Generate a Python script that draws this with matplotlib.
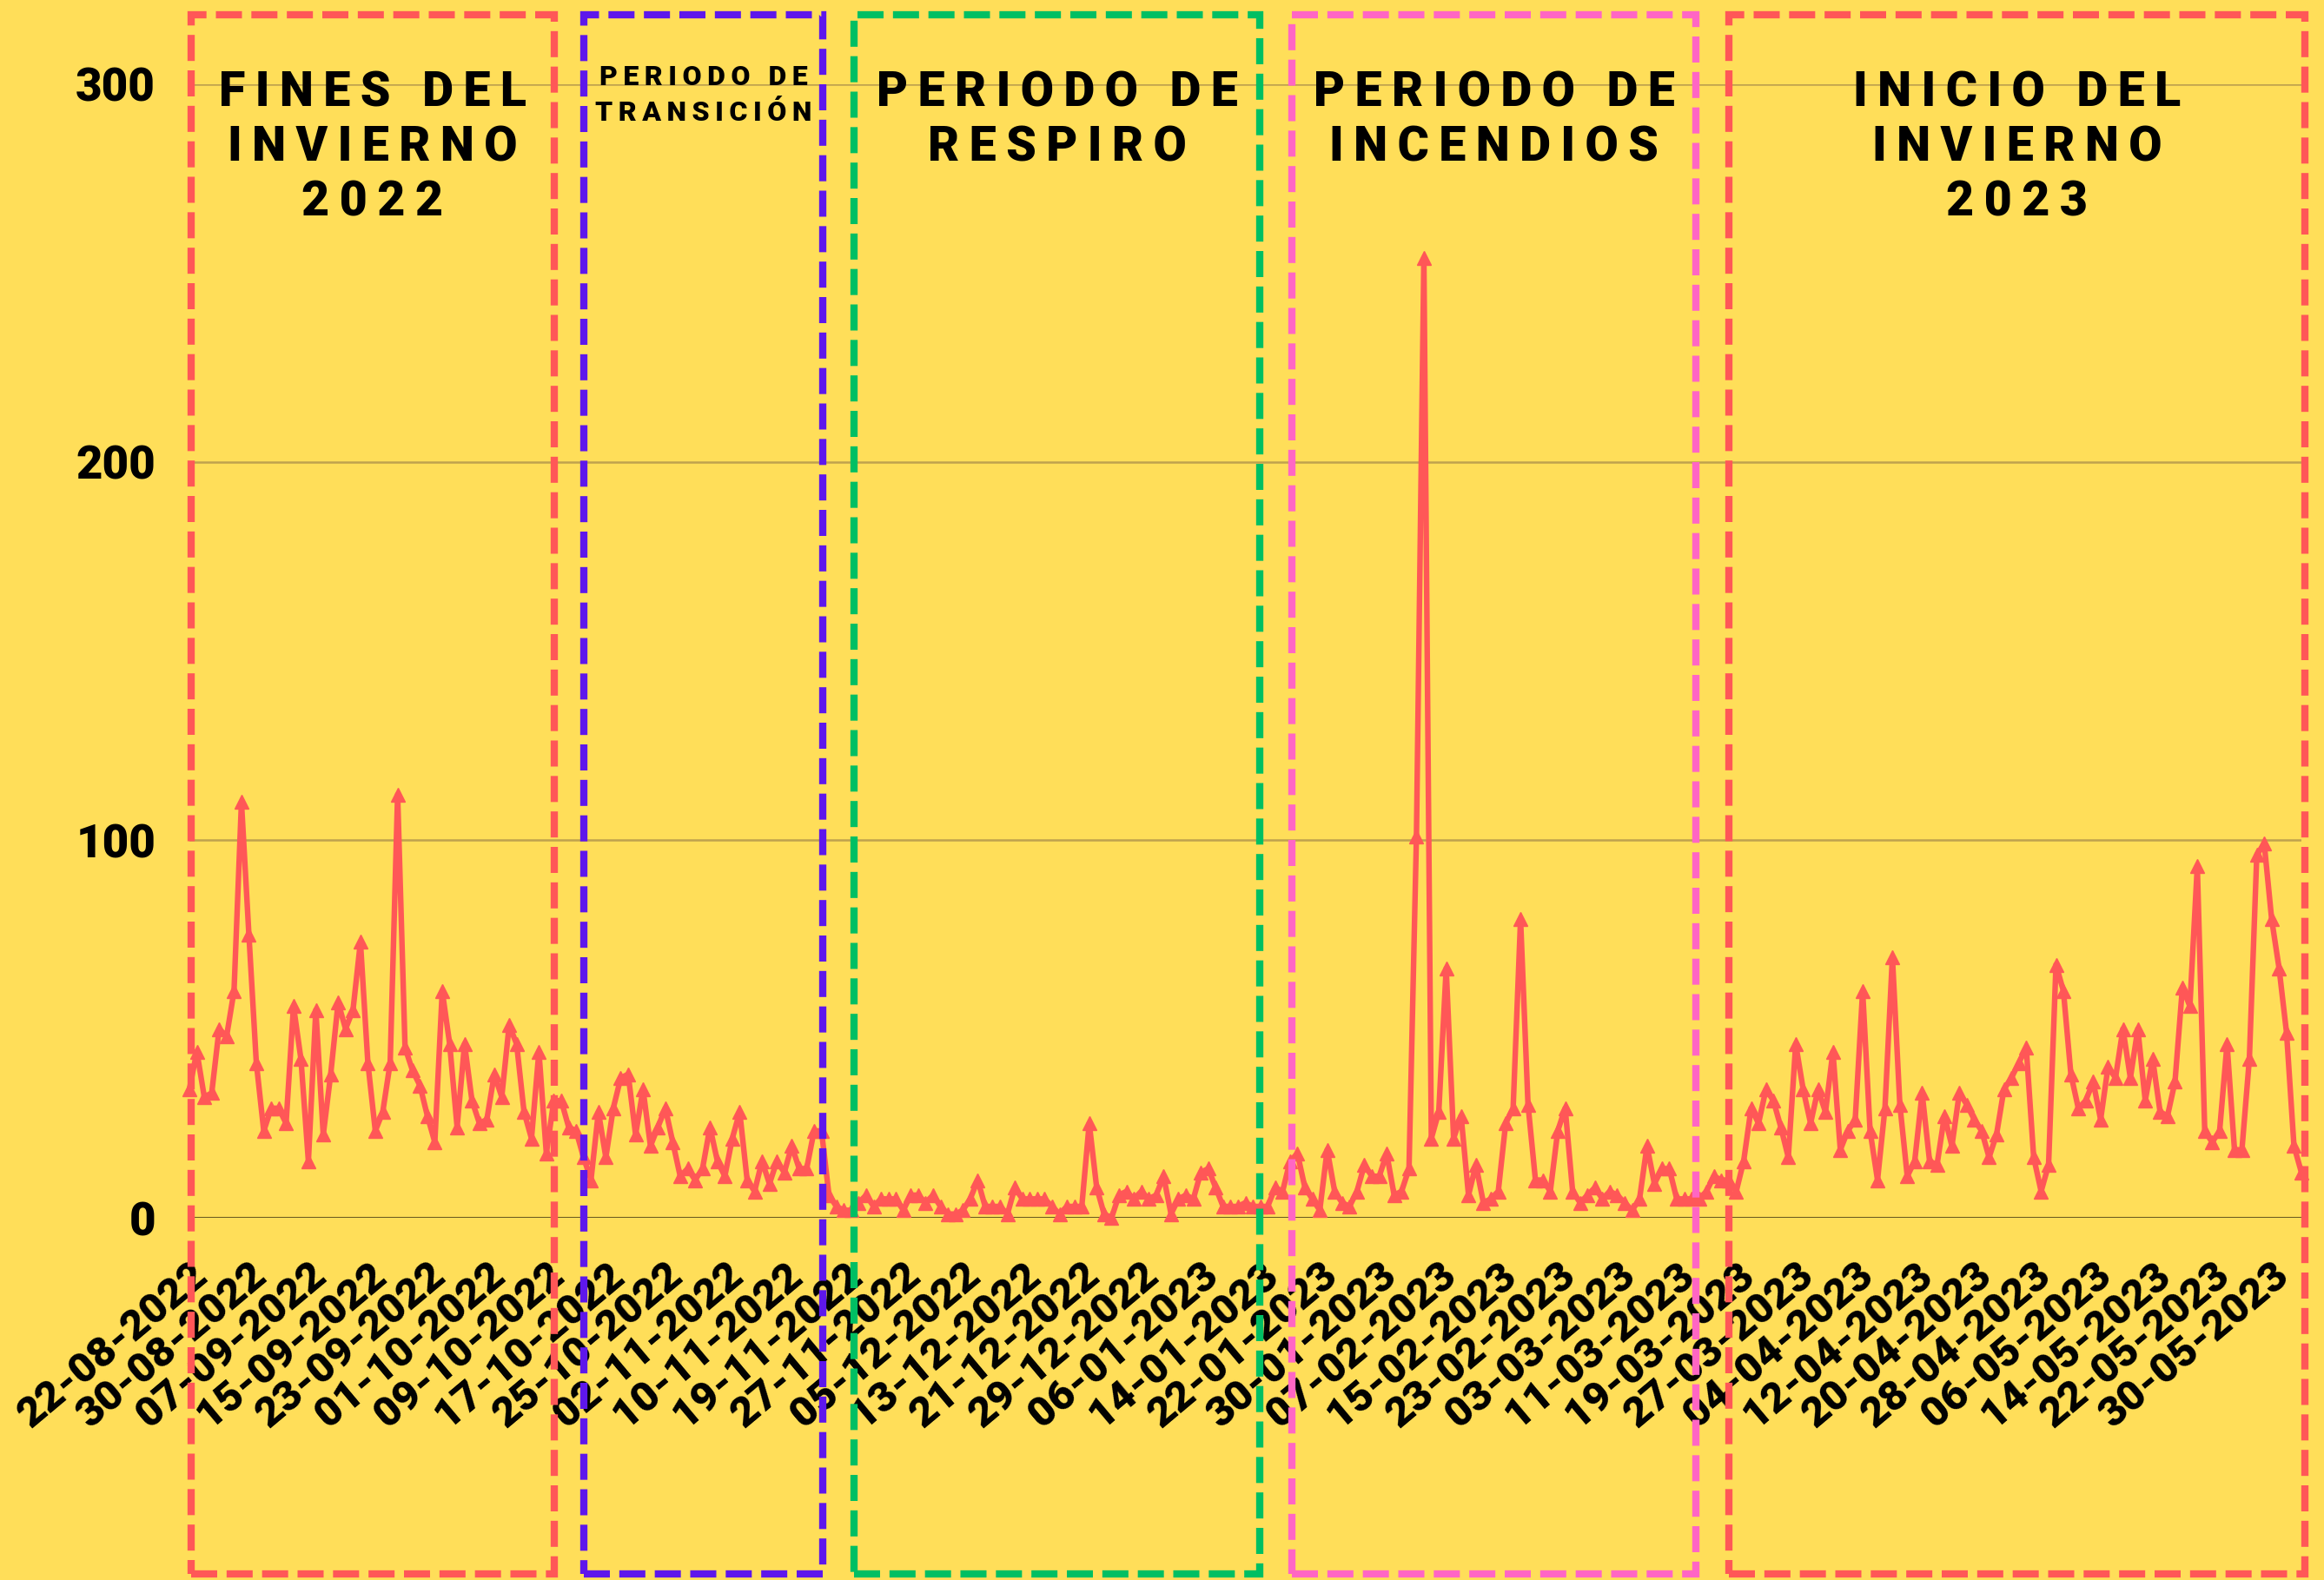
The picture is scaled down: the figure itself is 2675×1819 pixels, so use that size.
import numpy as np
import pandas as pd
import matplotlib
matplotlib.use("Agg")
import matplotlib.pyplot as plt
from matplotlib.patches import Rectangle

W, H = 2675, 1819

# daily counts, 22-08-2022 .. 03-06-2023 (one day missing in november)
values = [
    34, 44, 32, 33, 50, 48, 60, 110, 75, 41,
    23, 29, 29, 25, 56, 42, 15, 55, 22, 38,
    57, 50, 55, 73, 41, 23, 28, 41, 112, 45,
    39, 35, 27, 20, 60, 46, 24, 46, 31, 25,
    26, 38, 32, 51, 46, 28, 21, 44, 17, 31,
    31, 24, 23, 16, 10, 28, 16, 29, 37, 38,
    22, 34, 19, 24, 29, 20, 11, 13, 10, 13,
    24, 15, 11, 21, 28, 10, 7, 15, 9, 15,
    12, 19, 13, 13, 23, 23, 6, 3, 2, 2,
    4, 6, 3, 5, 5, 5, 2, 6, 6, 4,
    6, 3, 1, 1, 2, 5, 10, 3, 3, 3,
    1, 8, 5, 5, 5, 5, 3, 1, 3, 3,
    3, 25, 8, 1, 0, 6, 7, 5, 7, 5,
    6, 11, 1, 5, 6, 5, 12, 13, 8, 3,
    3, 3, 4, 3, 3, 3, 8, 7, 15, 17,
    8, 5, 2, 18, 7, 4, 3, 7, 14, 11,
    11, 17, 6, 7, 13, 101, 254, 21, 28, 66,
    21, 27, 6, 14, 4, 5, 7, 25, 29, 79,
    30, 10, 10, 7, 23, 29, 7, 4, 6, 8,
    5, 7, 6, 4, 2, 5, 19, 9, 13, 13,
    5, 5, 5, 5, 7, 11, 10, 10, 7, 15,
    29, 25, 34, 31, 24, 16, 46, 34, 25, 34,
    28, 44, 18, 23, 26, 60, 23, 10, 29, 69,
    30, 11, 15, 33, 15, 14, 27, 19, 33, 30,
    26, 23, 16, 22, 34, 37, 41, 45, 16, 7,
    14, 67, 60, 38, 29, 31, 36, 26, 40, 37,
    50, 37, 50, 31, 42, 28, 27, 36, 61, 56,
    93, 23, 20, 23, 46, 18, 18, 42, 96, 99,
    79, 66, 49, 19, 12,
]

dates = pd.date_range("2022-08-22", "2023-06-03")
dates = dates[dates != pd.Timestamp("2022-11-15")]
labels = [d.strftime("%d-%m-%Y") for d in dates]

# periods: title lines, colour, left / right edge in pixels
period_titles = [
    ["FINES DEL", "INVIERNO", "2022"],
    ["PERIODO DE", "TRANSICIÓN"],
    ["PERIODO DE", "RESPIRO"],
    ["PERIODO DE", "INCENDIOS"],
    ["INICIO DEL", "INVIERNO", "2023"],
]
period_colors = ["#FF5757", "#5E17EB", "#00BF63", "#FF66C4", "#FF5757"]
period_edges = [(220, 638), (672, 947), (983, 1450), (1487, 1952), (1990, 2653)]
period_sizes = [40, 23, 40, 40, 40]
period_rows = [[107, 170, 233], [89, 130], [107, 170], [107, 170], [107, 170, 233]]

bg = "#FFDE59"
fonts = ["Roboto", "DejaVu Sans"]


def spaced(s):
    # fake letter-spacing with thin spaces
    return "\u2009".join(s)


fig = plt.figure(figsize=(W / 100, H / 100), dpi=100, facecolor=bg)
ax = fig.add_axes([218 / W, 1 - 1402 / H, (2649 - 218) / W, (1402 - 97) / H])
ax.set_facecolor(bg)

x = np.arange(len(values))
ax.plot(x, values, color="#FF5757", lw=4.6, marker="^", ms=12,
        clip_on=False, zorder=3)

ax.set_xlim(0, len(values) - 1)
ax.set_ylim(0, 300)
for s in ax.spines.values():
    s.set_visible(False)

for yv in [100, 200, 300]:
    ax.axhline(yv, color="#BFA24E", lw=1.8, zorder=1)
ax.axhline(0, color="#6B5A20", lw=2.2, zorder=2)

ax.set_yticks([0, 100, 200, 300])
ax.set_yticklabels(["0", "100", "200", "300"])
ticks = x[::8]
ax.set_xticks(ticks)
ax.set_xticklabels([labels[i] for i in ticks])
ax.tick_params(length=0)
ax.tick_params(axis="y", pad=28)
ax.tick_params(axis="x", pad=31)
for t in ax.get_yticklabels():
    t.set_fontfamily(fonts)
    t.set_fontweight("black")
    t.set_fontsize(38)
for t in ax.get_xticklabels():
    t.set_fontfamily(fonts)
    t.set_fontweight("black")
    t.set_fontsize(35)
    t.set_rotation(40)
    t.set_ha("right")
    t.set_va("top")
    t.set_rotation_mode("anchor")

# dashed period boxes, running past the axes
for lines, col, (x0, x1), fs, rows in zip(period_titles, period_colors,
                                          period_edges, period_sizes, period_rows):
    rect = Rectangle((x0 / W, 1 - 1812 / H), (x1 - x0) / W, (1812 - 17) / H,
                     transform=fig.transFigure, fill=False, edgecolor=col,
                     lw=6, linestyle=(0, (3.6, 1.3)), zorder=5)
    fig.add_artist(rect)
    for line, ty in zip(lines, rows):
        fig.text((x0 + x1) / 2 / W, 1 - ty / H, spaced(line), ha="center",
                 va="center", fontsize=fs, fontweight="black", family=fonts,
                 color="black", zorder=6)

fig.savefig("out.png", dpi=100, facecolor=bg)
